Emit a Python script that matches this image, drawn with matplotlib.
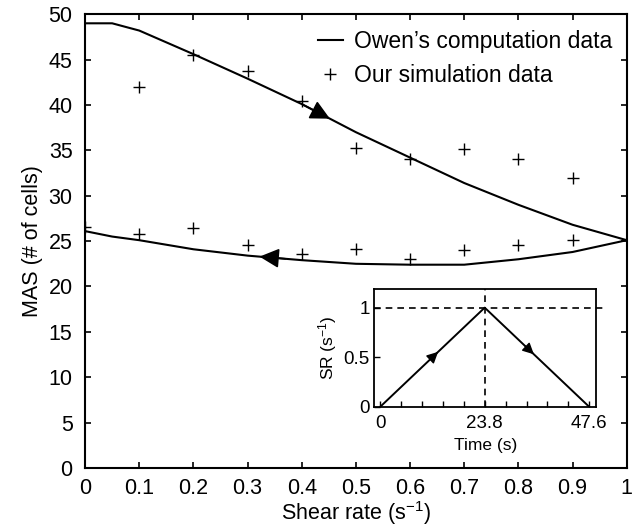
import numpy as np
import matplotlib
matplotlib.use("Agg")
import matplotlib.pyplot as plt
from matplotlib.ticker import MultipleLocator

plt.rcParams['font.family'] = ['Liberation Sans', 'DejaVu Sans']
plt.rcParams['mathtext.fontset'] = 'custom'
plt.rcParams['mathtext.rm'] = 'Liberation Sans'
plt.rcParams['mathtext.it'] = 'Liberation Sans:italic'

# Owen's computation: ramp up (upper branch) and ramp down (lower branch)
owen_up_x = [0.0, 0.05, 0.1, 0.2, 0.3, 0.4, 0.5, 0.6, 0.7, 0.8, 0.9, 1.0]
owen_up_y = [49.0, 49.0, 48.2, 45.6, 42.9, 40.1, 37.0, 34.2, 31.4, 29.0, 26.8, 25.1]
owen_down_x = [1.0, 0.9, 0.8, 0.7, 0.6, 0.5, 0.4, 0.3, 0.2, 0.1, 0.05, 0.0]
owen_down_y = [25.1, 23.8, 23.0, 22.4, 22.4, 22.5, 22.9, 23.4, 24.1, 25.1, 25.5, 26.1]

# our simulation
sim_up_x = [0.1, 0.2, 0.3, 0.4, 0.5, 0.6, 0.7, 0.8, 0.9]
sim_up_y = [42.0, 45.5, 43.7, 40.4, 35.3, 34.1, 35.1, 34.0, 32.0]
sim_down_x = [0.0, 0.1, 0.2, 0.3, 0.4, 0.5, 0.6, 0.7, 0.8, 0.9]
sim_down_y = [26.6, 25.8, 26.4, 24.6, 23.6, 24.1, 23.0, 24.0, 24.6, 25.1]

# shear-rate protocol (inset)
t_peak = 23.8
t_end = 47.6
protocol_t = [0.0, t_peak, t_end]
protocol_sr = [0.0, 1.0, 0.0]

fig = plt.figure(figsize=(6.35, 5.27), dpi=100)
ax = fig.add_axes([0.134, 0.112, 0.853, 0.861])

ax.plot(owen_up_x, owen_up_y, color='k', lw=1.5, label="Owen\u2019s computation data")
ax.plot(owen_down_x, owen_down_y, color='k', lw=1.5)
ax.plot(sim_up_x, sim_up_y, '+', color='k', ms=8, mew=1.0, label='Our simulation data')
ax.plot(sim_down_x, sim_down_y, '+', color='k', ms=8, mew=1.0)


def head(axis, xs, ys, x_tip, x_back, scale):
    # arrowhead sitting on a polyline, pointing from x_back to x_tip
    xs_s = np.array(xs)
    ys_s = np.array(ys)
    order = np.argsort(xs_s)
    y_tip = np.interp(x_tip, xs_s[order], ys_s[order])
    y_back = np.interp(x_back, xs_s[order], ys_s[order])
    axis.annotate('', xy=(x_tip, y_tip), xytext=(x_back, y_back),
                  arrowprops=dict(arrowstyle='-|>', color='k', lw=1.2,
                                  mutation_scale=scale, shrinkA=0, shrinkB=0))


head(ax, owen_up_x, owen_up_y, 0.452, 0.40, 30)
head(ax, owen_down_x, owen_down_y, 0.322, 0.37, 30)

ax.set_xlim(0, 1)
ax.set_ylim(0, 50)
ax.yaxis.set_major_locator(MultipleLocator(5))
ax.set_xticks(np.arange(0, 1.01, 0.1))
ax.set_xticklabels(['0', '0.1', '0.2', '0.3', '0.4', '0.5', '0.6', '0.7', '0.8', '0.9', '1'])
ax.tick_params(direction='in', top=True, right=True, length=4, width=1.2,
               labelsize=15.5)
ax.tick_params(axis='x', pad=7)
ax.tick_params(axis='y', pad=9)
for s in ax.spines.values():
    s.set_linewidth(1.5)
ax.set_xlabel('Shear rate (s$^{-1}$)', fontsize=15.5, labelpad=0)
ax.set_ylabel('MAS (# of cells)', fontsize=15.5, labelpad=4)

ax.legend(loc='upper right', frameon=False, fontsize=16.5, handlelength=1.1,
          handletextpad=0.5, borderaxespad=0.1, labelspacing=0.45,
          bbox_to_anchor=(0.995, 0.99))

# inset: shear rate vs time
ins = fig.add_axes([0.589, 0.228, 0.350, 0.224])
ins.plot(protocol_t, protocol_sr, color='k', lw=1.4)
ins.set_xlim(-1.4, 49.2)
ins.set_ylim(0, 1.19)
ins.hlines(1.0, -1.4, 51.0, colors='k', linestyles=(0, (4, 3)), lw=1.2, clip_on=False)
ins.vlines(t_peak, 0, 1.19, colors='k', linestyles=(0, (4, 3)), lw=1.2)

for a, b in [(11.3, 13.2), (33.0, 35.0)]:
    ya = np.interp(a, protocol_t, protocol_sr)
    yb = np.interp(b, protocol_t, protocol_sr)
    ins.annotate('', xy=(b, yb), xytext=(a, ya),
                 arrowprops=dict(arrowstyle='-|>', color='k', lw=1.0,
                                 mutation_scale=17, shrinkA=0, shrinkB=0))

ins.set_xticks([0, t_peak, t_end])
ins.set_xticklabels(['0', '23.8', '47.6'])
ins.xaxis.set_minor_locator(MultipleLocator(t_peak / 5))
ins.set_yticks([0, 0.5, 1])
ins.set_yticklabels(['0', '0.5', '1'])
ins.tick_params(direction='in', which='both', length=4, width=1.0, labelsize=13.5)
ins.tick_params(axis='x', pad=6)
ins.tick_params(axis='y', pad=3)
for s in ins.spines.values():
    s.set_linewidth(1.3)
ins.set_xlabel('Time (s)', fontsize=12.5, labelpad=4)
ins.set_ylabel('SR (s$^{-1}$)', fontsize=12.5, labelpad=3)

fig.savefig('out.png', dpi=100)
